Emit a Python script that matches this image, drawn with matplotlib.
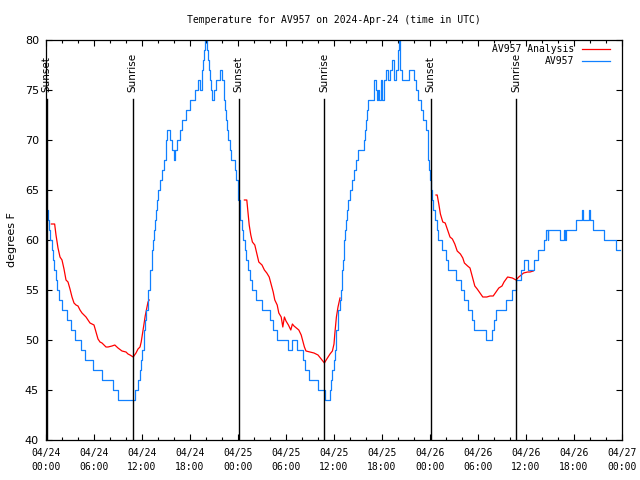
import matplotlib
matplotlib.use('Agg')
import numpy as np
import pandas as pd
import matplotlib.pyplot as plt
import matplotlib.dates as mdates

# observed temperature (hours after 2024-04-24 00Z, deg F), held until next change
obs_hours = [0.12, 0.3, 0.42, 0.55, 0.7, 0.85, 1.0, 1.2, 1.4, 1.6, 2.0, 2.6, 3.1, 3.6, 4.35, 4.85,
             5.85, 6.95, 8.4, 8.95, 11.1, 11.55, 11.75, 11.9, 12.05, 12.2, 12.3, 12.4, 12.55, 12.7,
             12.8, 12.95, 13.05, 13.2, 13.3, 13.4, 13.5, 13.65, 13.75, 13.9, 14.05, 14.2, 14.45,
             14.7, 14.95, 15.05, 15.15, 15.5, 15.75, 16.05, 16.15, 16.4, 16.7, 16.95, 17.5, 18.0,
             18.6, 19.0, 19.25, 19.45, 19.55, 19.65, 19.75, 19.85, 20.1, 20.25, 20.35, 20.45, 20.6,
             20.8, 21.0, 21.2, 21.7, 21.95, 22.2, 22.3, 22.4, 22.5, 22.6, 22.75, 22.95, 23.1, 23.65,
             23.8, 23.95, 24.05, 24.2, 24.3, 24.45, 24.6, 24.85, 25.05, 25.2, 25.45, 25.8, 26.3,
             27.05, 28.0, 28.4, 28.85, 30.25, 30.75, 31.35, 32.1, 32.4, 32.9, 34.05, 34.85, 35.45,
             35.6, 35.8, 35.95, 36.1, 36.2, 36.3, 36.45, 36.55, 36.7, 36.85, 36.95, 37.05, 37.15,
             37.25, 37.3, 37.4, 37.5, 37.6, 37.75, 37.95, 38.2, 38.45, 38.75, 39.0, 39.75, 39.85,
             39.95, 40.1, 40.3, 41.0, 41.2, 41.35, 41.5, 41.65, 41.85, 42.05, 42.25, 42.5, 42.8,
             43.0, 43.3, 43.5, 43.75, 43.95, 44.1, 44.25, 44.5, 45.35, 45.95, 46.2, 46.45, 46.9,
             47.15, 47.45, 47.7, 47.8, 47.9, 48.0, 48.15, 48.25, 48.4, 48.6, 48.85, 49.05, 49.45,
             50.0, 50.25, 51.25, 51.85, 52.25, 52.7, 53.2, 53.45, 55.0, 55.7, 56.0, 56.3, 57.5,
             58.2, 58.7, 59.4, 59.7, 60.25, 60.95, 61.5, 62.2, 62.5, 62.7, 62.8, 64.25, 64.7, 64.85,
             65.05, 66.2, 67.0, 67.15, 67.85, 68.05, 68.4, 69.8, 71.2, 71.8]
obs_temps = [63, 62, 61, 60, 59, 58, 57, 56, 55, 54, 53, 52, 51, 50, 49, 48,
             47, 46, 45, 44, 45, 46, 47, 48, 49, 50, 51, 52, 53, 54,
             55, 56, 57, 58, 59, 60, 61, 62, 63, 64, 65, 66, 67,
             68, 69, 70, 71, 70, 69, 68, 69, 70, 71, 72, 73, 74,
             75, 76, 75, 76, 77, 78, 79, 80, 79, 78, 77, 76, 75,
             74, 75, 76, 77, 76, 75, 74, 73, 72, 71, 70, 69, 68, 67,
             66, 65, 64, 63, 62, 61, 60, 59, 58, 57, 56, 55, 54,
             53, 52, 51, 50, 49, 50, 49, 48, 47, 46, 45, 44, 45,
             46, 47, 48, 49, 50, 51, 52, 53, 54, 55, 56, 57, 58,
             59, 60, 61, 62, 63, 64, 65, 66, 67, 68, 69, 70, 71,
             72, 73, 74, 76, 75, 74, 75, 74, 76, 74, 76, 77, 76,
             77, 78, 76, 77, 79, 80, 77, 76, 77, 76, 75, 74, 73,
             72, 71, 70, 68, 67, 66, 65, 64, 63, 62, 61, 60, 59,
             58, 57, 56, 55, 54, 53, 52, 51, 50, 51, 52, 53, 54,
             55, 56, 57, 58, 57, 58, 59, 60, 61, 60, 61, 60, 61,
             60, 61, 62, 63, 62, 63, 62, 61, 60, 59, 59]

# analysis temperature, None marks gaps between runs
ana_hours = [0.67, 1.08, 1.25, 1.5, 1.75, 2.0, 2.25, 2.5, 2.75, 3.0, 3.25, 3.5, 3.75, 4.0, 4.25,
             4.5, 4.75, 5.0, 5.5, 6.0, 6.25, 6.5, 6.75, 7.0, 7.5, 7.75, 8.25, 8.6, 9.0, 9.5, 10.0,
             10.25, 10.5, 10.9, 11.25, 11.5, 11.75, 11.9, 12.1, 12.25, 12.4, 12.6, 12.75, 12.9,
             18.0,
             24.8, 25.1, 25.2, 25.4, 25.6, 25.8, 26.1, 26.4, 26.6, 27.0, 27.3, 27.6, 27.9, 28.1,
             28.4, 28.6, 28.9, 29.1, 29.4, 29.6, 29.8, 30.0, 30.3, 30.6, 30.8, 31.0, 31.3, 31.6,
             31.9, 32.1, 32.3, 32.5, 33.0, 33.5, 34.0, 34.3, 34.8, 35.1, 35.5, 35.8, 36.0, 36.1,
             36.3, 36.5, 36.75,
             42.0,
             48.75, 48.9, 49.1, 49.3, 49.6, 49.9, 50.2, 50.5, 50.8, 51.1, 51.4, 51.8, 52.1, 52.3,
             52.7, 53.0, 53.3, 53.6, 53.9, 54.25, 54.6, 55.1, 55.5, 55.9, 56.25, 56.6, 57.0, 57.25,
             57.7, 58.3, 58.75, 59.1, 59.4, 59.7, 60.2, 60.5, 60.9]
ana_temps = [61.6, 61.6, 60.5, 59.2, 58.3, 58.0, 57.1, 56.0, 55.8, 55.1, 54.3, 53.7, 53.5, 53.4, 53.0,
             52.7, 52.5, 52.3, 51.7, 51.5, 50.8, 50.1, 49.8, 49.7, 49.3, 49.3, 49.4, 49.5, 49.2, 48.9,
             48.8, 48.6, 48.5, 48.3, 48.7, 49.1, 49.3, 49.8, 50.8, 51.6, 52.4, 53.2, 53.8, 54.0,
             None,
             64.0, 64.0, 63.2, 61.5, 60.5, 59.8, 59.5, 58.5, 57.8, 57.5, 57.0, 56.7, 56.3, 55.7,
             54.8, 54.0, 53.5, 52.7, 52.3, 51.3, 52.3, 51.9, 51.5, 51.0, 51.6, 51.4, 51.2, 51.0,
             50.5, 49.9, 49.3, 48.9, 48.8, 48.7, 48.5, 48.2, 47.7, 48.1, 48.6, 48.9, 49.6, 50.6,
             52.3, 53.3, 54.2,
             None,
             64.5, 64.5, 63.6, 62.6, 61.8, 61.7, 61.0, 60.3, 60.1, 59.6, 58.9, 58.6, 58.2, 57.7,
             57.4, 57.2, 56.3, 55.4, 55.1, 54.7, 54.3, 54.3, 54.4, 54.4, 54.8, 55.2, 55.4, 55.8,
             56.3, 56.2, 56.0, 56.3, 56.5, 56.7, 56.8, 56.8, 56.9]

sun_hours = [0.1, 10.85, 24.1, 34.8, 48.1, 58.8]
sun_names = ['Sunset', 'Sunrise', 'Sunset', 'Sunrise', 'Sunset', 'Sunrise']

start = pd.Timestamp('2024-04-24 00:00')
def to_time(h):
    return start + pd.to_timedelta(np.asarray(h, dtype=float), unit='h')

obs_t = to_time(obs_hours)
ana_t = to_time(ana_hours)
ana_v = np.array([np.nan if v is None else v for v in ana_temps])

mono = 'DejaVu Sans Mono'
fig = plt.figure(figsize=(6.4, 4.8), dpi=100)
ax = fig.add_axes([46 / 640, 40 / 480, 576 / 640, 400 / 480])

ax.plot(ana_t, ana_v, color='#ff0000', lw=0.9, label='AV957 Analysis')
ax.plot(obs_t, obs_temps, color='#1080ff', lw=0.9, drawstyle='steps-post', label='AV957')

for h, name in zip(sun_hours, sun_names):
    t = to_time([h])[0]
    ax.plot([t, t], [40, 74.1], color='black', lw=1.0, zorder=5)
    ax.text(t, 74.75, name, rotation=90, ha='center', va='bottom', fontsize=7.5)

ax.set_xlim(start, start + pd.Timedelta(hours=72))
ax.set_ylim(40, 80)
ax.set_yticks(range(40, 81, 5))
ax.xaxis.set_major_locator(mdates.HourLocator(byhour=[0, 6, 12, 18]))
ax.xaxis.set_minor_locator(mdates.HourLocator(interval=2))
ax.xaxis.set_major_formatter(mdates.DateFormatter('%m/%d\n%H:%M'))

ax.tick_params(which='both', direction='in', top=True, right=True)
ax.tick_params(which='major', length=4.5, width=0.8)
ax.tick_params(which='minor', length=2.5, width=0.8)
ax.tick_params(axis='y', labelsize=8, pad=5)
ax.tick_params(axis='x', labelsize=7, pad=6)
for s in ax.spines.values():
    s.set_linewidth(0.9)

ax.set_ylabel('degrees F', fontsize=8, labelpad=6)
ax.set_title('Temperature for AV957 on 2024-Apr-24 (time in UTC)', fontsize=7,
             family=mono, pad=12)

leg = ax.legend(loc='upper right', bbox_to_anchor=(0.979, 0.99), frameon=False,
                markerfirst=False, borderpad=0, borderaxespad=0, handlelength=2.9,
                handletextpad=0.8, labelspacing=0.25, prop={'family': mono, 'size': 7})

fig.canvas.draw()
for lbl in ax.get_xticklabels():
    lbl.set_family(mono)
    lbl.set_linespacing(1.5)

fig.savefig('out.png', dpi=100)
